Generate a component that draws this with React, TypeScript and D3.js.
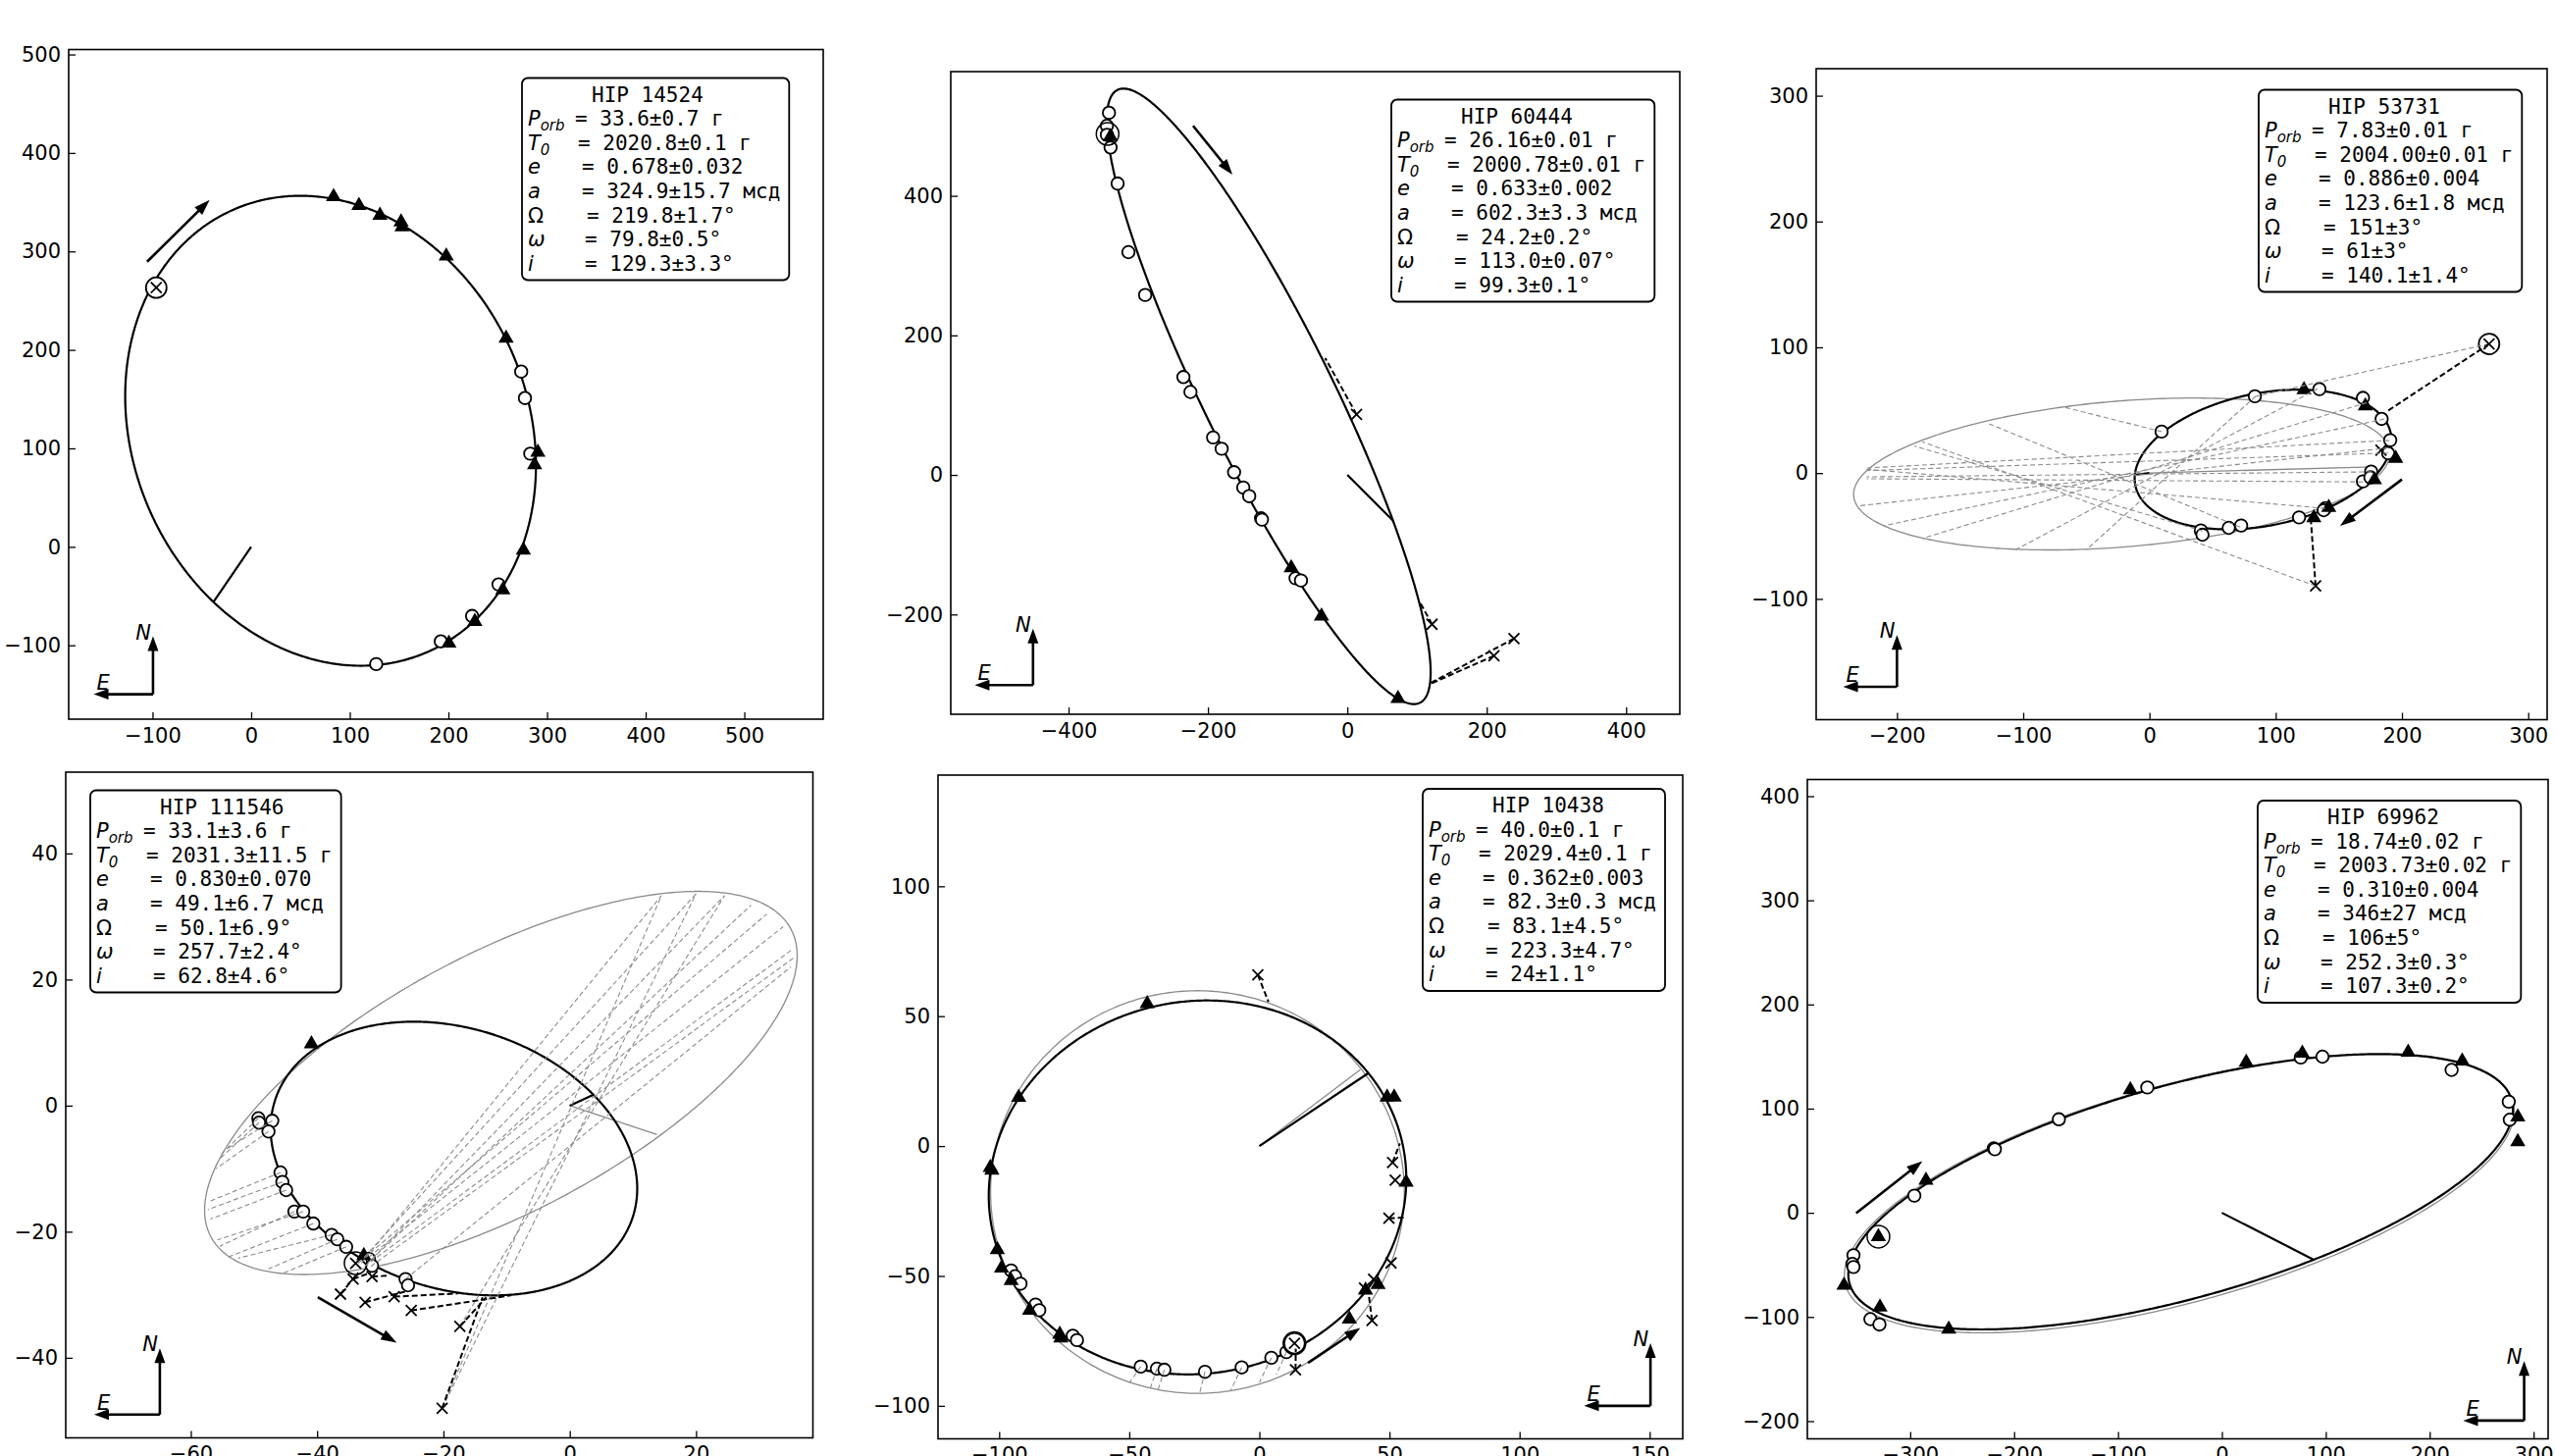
import React, { useEffect, useRef } from "react";
import * as d3 from "d3";

const W = 2604;
const H = 1484;

// orbital elements of the six pairs (fitted solution, black curve)
const stars = ["HIP 14524", "HIP 60444", "HIP 53731", "HIP 111546", "HIP 10438", "HIP 69962"];
const ecc = [0.678, 0.633, 0.886, 0.83, 0.362, 0.31];
const semiMajor = [324.9, 602.3, 123.6, 49.1, 82.3, 346];
const nodeAngle = [219.8, 24.2, 151, 50.1, 83.1, 106];
const periArg = [79.8, 113.0, 61, 257.7, 223.3, 252.3];
const incl = [129.3, 99.3, 140.1, 62.8, 24, 107.3];

const periodText = ["33.6±0.7 г", "26.16±0.01 г", "7.83±0.01 г", "33.1±3.6 г", "40.0±0.1 г", "18.74±0.02 г"];
const epochText = ["2020.8±0.1 г", "2000.78±0.01 г", "2004.00±0.01 г", "2031.3±11.5 г", "2029.4±0.1 г", "2003.73±0.02 г"];
const eccText = ["0.678±0.032", "0.633±0.002", "0.886±0.004", "0.830±0.070", "0.362±0.003", "0.310±0.004"];
const axisText = ["324.9±15.7 мсд", "602.3±3.3 мсд", "123.6±1.8 мсд", "49.1±6.7 мсд", "82.3±0.3 мсд", "346±27 мсд"];
const nodeText = ["219.8±1.7°", "24.2±0.2°", "151±3°", "50.1±6.9°", "83.1±4.5°", "106±5°"];
const periText = ["79.8±0.5°", "113.0±0.07°", "61±3°", "257.7±2.4°", "223.3±4.7°", "252.3±0.3°"];
const inclText = ["129.3±3.3°", "99.3±0.1°", "140.1±1.4°", "62.8±4.6°", "24±1.1°", "107.3±0.2°"];

// previous orbit (grey): centre x, centre y, semi-axes, tilt in degrees
const prevOrbits = [null, null, [-22, -0.7, 213, 58, 4.7], [-10.9, 3.6, 52, 20.5, 28], [-23.8, -17.7, 79.5, 77.5, 0], [-41, 18.5, 333, 104.5, 15.3]];
const prevPeri = [null, null, [177, 5], [13.8, -4.6], [38.8, 29.4], null];

// tick values
const xTicks = [
  [-100, 0, 100, 200, 300, 400, 500],
  [-400, -200, 0, 200, 400],
  [-200, -100, 0, 100, 200, 300],
  [-60, -40, -20, 0, 20],
  [-100, -50, 0, 50, 100, 150],
  [-300, -200, -100, 0, 100, 200, 300],
];
const yTicks = [
  [-100, 0, 100, 200, 300, 400, 500],
  [-200, 0, 200, 400],
  [-100, 0, 100, 200, 300],
  [-40, -20, 0, 20, 40],
  [-100, -50, 0, 50, 100],
  [-200, -100, 0, 100, 200, 300, 400],
];

// observations (mas)
const circles1 = [[126.8, -119.1], [192.3, -96], [224, -70.2], [250.8, -38.1], [273.8, 178], [277.6, 151.1], [283, 94.6]];
const triangles1 = [[83.6, 355.5], [109.3, 346.5], [130.6, 336.6], [152, 330], [153, 325], [197.8, 295.2], [258.5, 211.9], [290.7, 96], [287.4, 83.3], [276, -3.3], [255.2, -43.8], [226.8, -75.8], [200.5, -97.9]];
const circledX1 = [[-96.2, 263.2]];

const circles2 = [[-342, 519], [-345, 500.3], [-345, 487.4], [-339.7, 469.3], [-329.6, 417.6], [-314.1, 319.3], [-290.1, 257.9], [-235.2, 140.3], [-225.1, 118.9], [-192.6, 53.7], [-180.3, 37.5], [-162.5, 3.9], [-149.3, -18.1], [-140.8, -30.4], [-123.8, -62.1], [-122.5, -64], [-74.3, -148], [-66.5, -151.3]];
const triangles2 = [[-80.5, -133.2], [-37.1, -202.3], [72.7, -320.6], [-340, 485]];
const crosses2 = [[13.2, 86.6], [121.5, -214], [210.4, -259.2], [239.1, -234.6]];
const rings2 = [[-344, 488.7]];
const blackRes2 = [[13.2, 86.6, -31.7, 167.4], [121.5, -214, 103.7, -181.6], [210.4, -259.2, 118, -300], [239.1, -234.6, 120, -298]];

const circles3 = [[9.6, 33], [83.5, 61.1], [134.6, 66.8], [169.1, 59.8], [183.9, 43.1], [190.7, 26.2], [189.1, 15.8], [175.6, 1.2], [169.1, -6.6], [175, -3.4], [139.3, -27.9], [138, -29.5], [118.5, -35.2], [72.6, -41.7], [62.8, -43.5], [40.7, -45.6], [42, -49]];
const triangles3 = [[122.4, 66.3], [171, 53.4], [195, 11.7], [178.2, -5.4], [142, -27.3], [130.2, -35.6]];
const crosses3 = [[183.4, 18.2], [131.6, -89.7]];
const circledX3 = [[269, 102.7]];
const blackRes3 = [[269, 102.7, 188.6, 49.4], [131.6, -89.7, 127.7, -35.2]];
const greyRes3 = [
  [9.6, 33, -68, 52.5], [84, 61, -50, -61], [133, 67, -106, -61], [172, 56, -180, -52],
  [186, 43, -211, -42], [189, 20, -230, -26], [190, 26, -225, 4], [189, 16, -224, 2],
  [176, 1, -224, -3], [169, -7, -224, -4.5], [139, -28, -224, 3], [131.6, -89.7, -180, 25],
  [42, -46, -186, 21.5], [72, -43, -129, 40], [269, 102.7, 84, 61],
];

const circles4 = [[-49.3, -2], [-49.2, -2.7], [-47.1, -2.4], [-47.7, -4.1], [-45.8, -10.6], [-45.5, -12.1], [-44.9, -13.4], [-43.6, -16.8], [-42.2, -16.8], [-40.6, -18.7], [-37.7, -20.5], [-36.8, -21.2], [-35.4, -22.4], [-31.8, -24.3], [-31.3, -25.4], [-26, -27.5], [-25.6, -28.5]];
const triangles4 = [[-40.9, 9.8], [-32.6, -23.8]];
const crosses4 = [[-36.3, -29.9], [-34.3, -27.5], [-32.4, -31.2], [-31.3, -27.1], [-27.8, -30.3], [-25.1, -32.5], [-17.4, -35], [-20.2, -48], [-33.9, -25]];
const rings4 = [[-33.9, -25]];
const blackRes4 = [[-36.3, -29.9, -33.5, -26.5], [-34.3, -27.5, -31.5, -26.5], [-32.4, -31.2, -26.1, -29.5], [-27.8, -30.3, -17.7, -29.8], [-25.1, -32.5, -9.3, -30.1], [-17.4, -35, -13.2, -30.4], [-20.2, -48, -13.8, -30.4], [-31.3, -27.1, -29, -27]];
const greyRes4 = [
  [-49.3, -2, -55, -7.5], [-49.2, -2.7, -55.5, -8.5], [-47.1, -2.4, -54.5, -7], [-47.7, -4.1, -56, -10],
  [-45.8, -10.6, -57.3, -15.3], [-45.5, -12.1, -57.3, -16.5], [-44.9, -13.4, -56.9, -18],
  [-43.6, -16.8, -55.4, -22.3], [-42.2, -16.8, -55.8, -21.3], [-40.6, -18.7, -54, -24],
  [-37.7, -20.5, -52.5, -24.2], [-36.8, -21.2, -47.7, -25.9], [-35.4, -22.4, -45.4, -26.6],
  [-33, -25, 14.5, 33.3], [-32.5, -24, 20, 33.6], [-32, -25, 24.5, 33.3], [-31.5, -24.5, 28.7, 31.8],
  [-33.5, -25, 31.2, 30.4], [-31.8, -24, 33.8, 28.4], [-32.5, -25.5, 35.4, 24.9], [-31.5, -25.5, 35.4, 23.4],
  [-26, -27.5, 35, 22], [-20.2, -48, 14.5, 33.3], [-20.2, -48, 20, 33.6], [-17.4, -35, 24.5, 33.3],
];

const circles5 = [[-95.4, -47.9], [-93.9, -50.1], [-91.8, -53], [-86, -61], [-84.6, -63.2], [-71.7, -73], [-70.1, -74.7], [-45.6, -84.9], [-39.4, -85.7], [-36.5, -86.1], [-20.9, -86.9], [-6.8, -85.2], [4.6, -81.5], [10.4, -79.3]];
const triangles5 = [[-43.1, 54.8], [-92.5, 18.7], [-103.4, -8.3], [-102.8, -9.3], [-100.7, -39.9], [-99.1, -47], [-95.4, -51.8], [-88.3, -63.2], [-76.7, -72.5], [-76.3, -73.9], [34.6, -66.6], [40.8, -55.5], [45.6, -53.3], [49.1, 18.8], [51.8, 18.8], [56.4, -13.9]];
const crosses5 = [[-0.6, 65.9], [51.2, -6.3], [52.2, -13.1], [49.8, -27.8], [50.6, -45], [40.4, -54.7], [43.9, -51.3], [43.3, -67.1], [13.9, -86.1]];
const circledX5 = [[13.5, -75.9]];
const rings5 = [[13.5, -75.9]];
const blackRes5 = [[-0.6, 65.9, 3.5, 55.5], [51.2, -6.3, 54, 1], [49.8, -27.8, 55.5, -27.5], [43.3, -67.1, 42, -57], [13.9, -86.1, 14, -78]];
const greyRes5 = [[-45.6, -84.9, -50, -91.2], [-39.4, -85.7, -42, -93.5], [-36.5, -86.1, -39, -94], [-20.9, -86.9, -23, -95.3], [-6.8, -85.2, -11, -94], [4.6, -81.5, 0, -91], [10.4, -79.3, 6.5, -88]];

const circles6 = [[-354.6, -40.7], [-355.6, -49.1], [-354.6, -52], [-338.3, -102.1], [-329.6, -107.2], [-296, 16.5], [-219.6, 61.8], [-218.5, 61], [-156.9, 89.8], [-71.8, 120.3], [75.9, 149.1], [96.8, 149.9], [221.1, 137.2], [276.1, 106.7], [277.1, 89.4]];
const triangles6 = [[-363.7, -69.5], [-329.1, -90.6], [-330.6, -22.9], [-284.8, 31.3], [-262.9, -111.8], [-88.1, 118.2], [23.4, 144.4], [77.4, 153.3], [179.3, 154.2], [231.3, 145.7], [284.8, 91.9], [284.8, 68.2]];
const rings6 = [[-330.6, -22.9]];

const obs = [
  { circles: circles1, triangles: triangles1, crosses: [], circledX: circledX1, rings: [], blackRes: [], greyRes: [] },
  { circles: circles2, triangles: triangles2, crosses: crosses2, circledX: [], rings: rings2, blackRes: blackRes2, greyRes: [] },
  { circles: circles3, triangles: triangles3, crosses: crosses3, circledX: circledX3, rings: [], blackRes: blackRes3, greyRes: greyRes3 },
  { circles: circles4, triangles: triangles4, crosses: crosses4, circledX: [], rings: rings4, blackRes: blackRes4, greyRes: greyRes4 },
  { circles: circles5, triangles: triangles5, crosses: crosses5, circledX: circledX5, rings: rings5, blackRes: blackRes5, greyRes: greyRes5 },
  { circles: circles6, triangles: triangles6, crosses: [], circledX: [], rings: rings6, blackRes: [], greyRes: [] },
];

// layout
const frames = [
  { left: 70, right: 839, top: 50.5, bottom: 733 },
  { left: 969, right: 1712, top: 73, bottom: 728 },
  { left: 1851, right: 2596, top: 70, bottom: 733.5 },
  { left: 67, right: 828.5, top: 787, bottom: 1465.5 },
  { left: 956, right: 1715, top: 790, bottom: 1466.5 },
  { left: 1842, right: 2597, top: 794.5, bottom: 1466.5 },
];
const xDomains = [[-185, 580], [-569, 477], [-264, 315], [-79.8, 38.5], [-123.5, 162.7], [-399, 314]];
const yDomains = [[-175, 505], [-343, 578], [-196, 321.5], [-52.7, 52.9], [-112.7, 142.8], [-217, 416]];
const boxCorners = [[532, 79.5], [1418, 101.5], [2302, 91.5], [92, 805.5], [1450, 804], [2301, 816]];
// compass: corner x, corner y, E tip x, N tip y (data units)
const compass = [[-99.5, -149.7, -159.6, -90.9], [-451, -301.2, -534.6, -220.4], [-200, -169.9, -242.6, -128.7], [-64.9, -49, -75.3, -38.5], [150.3, -100, 124.8, -75.9], [290.9, -199.5, 232.3, -142.3]];
const motion = [[-105.5, 289.5, -42.1, 352.2], [-221.3, 500.3, -164.8, 430.5], [200, -5, 151, -42], [-39.9, -30.4, -27.4, -37.6], [18.7, -83.5, 38.8, -70], [-352, -0.4, -288.3, 49.6]];

const MONO = "DejaVu Sans Mono";
const SANS = "DejaVu Sans";
const fmt = (d) => (d < 0 ? "\u2212" + Math.abs(d) : String(d));

function thieleInnes(k) {
  const r = Math.PI / 180;
  const a = semiMajor[k];
  const cw = Math.cos(periArg[k] * r), sw = Math.sin(periArg[k] * r);
  const cO = Math.cos(nodeAngle[k] * r), sO = Math.sin(nodeAngle[k] * r);
  const ci = Math.cos(incl[k] * r);
  return {
    A: a * (cw * cO - sw * sO * ci),
    B: a * (cw * sO + sw * cO * ci),
    F: a * (-sw * cO - cw * sO * ci),
    G: a * (-sw * sO + cw * cO * ci),
  };
}

function orbitPoint(ti, e, E) {
  const X = Math.cos(E) - e;
  const Y = Math.sqrt(1 - e * e) * Math.sin(E);
  // x axis runs west-positive, so flip the RA offset
  return [-(ti.B * X + ti.G * Y), ti.A * X + ti.F * Y];
}

function arrow(g, x1, y1, x2, y2, lw, hl, hw) {
  const dx = x2 - x1, dy = y2 - y1, L = Math.hypot(dx, dy);
  const ux = dx / L, uy = dy / L;
  const bx = x2 - ux * hl, by = y2 - uy * hl;
  g.append("line").attr("x1", x1).attr("y1", y1).attr("x2", bx + ux).attr("y2", by + uy)
    .attr("stroke", "#000").attr("stroke-width", lw);
  g.append("path")
    .attr("d", `M${x2},${y2}L${bx - (uy * hw) / 2},${by + (ux * hw) / 2}L${bx + (uy * hw) / 2},${by - (ux * hw) / 2}Z`)
    .attr("fill", "#000");
}

function drawPanel(svg, k) {
  const f = frames[k];
  const x = d3.scaleLinear().domain(xDomains[k]).range([f.left, f.right]);
  const y = d3.scaleLinear().domain(yDomains[k]).range([f.bottom, f.top]);
  const o = obs[k];

  svg.append("clipPath").attr("id", `clip${k}`).append("rect")
    .attr("x", f.left).attr("y", f.top).attr("width", f.right - f.left).attr("height", f.bottom - f.top);

  const g = svg.append("g");
  const plot = g.append("g").attr("clip-path", `url(#clip${k})`);
  const line = d3.line().x((d) => x(d[0])).y((d) => y(d[1]));

  // previous (grey) orbit
  const prev = prevOrbits[k];
  if (prev) {
    const [cx, cy, rx, ry, rot] = prev;
    const th = (rot * Math.PI) / 180;
    const pts = d3.range(0, 361).map((t) => {
      const u = (t * Math.PI) / 180;
      return [cx + rx * Math.cos(u) * Math.cos(th) - ry * Math.sin(u) * Math.sin(th), cy + rx * Math.cos(u) * Math.sin(th) + ry * Math.sin(u) * Math.cos(th)];
    });
    plot.append("path").attr("d", line(pts)).attr("fill", "none").attr("stroke", "#8a8a8a").attr("stroke-width", 1.3);
  }
  if (prevPeri[k]) {
    plot.append("path").attr("d", line([[0, 0], prevPeri[k]])).attr("stroke", "#8a8a8a").attr("stroke-width", 1.3);
  }

  // fitted orbit
  const ti = thieleInnes(k);
  const e = ecc[k];
  const orbit = d3.range(0, 721).map((t) => orbitPoint(ti, e, (t * Math.PI) / 360));
  plot.append("path").attr("d", line(orbit)).attr("fill", "none").attr("stroke", "#000").attr("stroke-width", 2.2);
  plot.append("path").attr("d", line([[0, 0], orbitPoint(ti, e, 0)])).attr("stroke", "#000").attr("stroke-width", 2.2);

  // markers
  plot.selectAll(null).data(o.circles).join("circle")
    .attr("cx", (d) => x(d[0])).attr("cy", (d) => y(d[1])).attr("r", 6.3)
    .attr("fill", "#fff").attr("stroke", "#000").attr("stroke-width", 1.8);
  const tri = d3.symbol(d3.symbolTriangle, 105)();
  plot.selectAll(null).data(o.triangles).join("path")
    .attr("d", tri).attr("transform", (d) => `translate(${x(d[0])},${y(d[1])})`).attr("fill", "#000");
  const cross = (sel, s, w) =>
    sel.attr("d", (d) => {
      const px = x(d[0]), py = y(d[1]);
      return `M${px - s},${py - s}L${px + s},${py + s}M${px - s},${py + s}L${px + s},${py - s}`;
    }).attr("stroke", "#000").attr("stroke-width", w).attr("fill", "none");
  cross(plot.selectAll(null).data(o.crosses).join("path"), 5.5, 1.8);
  plot.selectAll(null).data(o.circledX).join("circle")
    .attr("cx", (d) => x(d[0])).attr("cy", (d) => y(d[1])).attr("r", 10.5)
    .attr("fill", "#fff").attr("stroke", "#000").attr("stroke-width", 1.8);
  cross(plot.selectAll(null).data(o.circledX).join("path"), 5.5, 1.8);
  plot.selectAll(null).data(o.rings).join("circle")
    .attr("cx", (d) => x(d[0])).attr("cy", (d) => y(d[1])).attr("r", 11.5)
    .attr("fill", "none").attr("stroke", "#000").attr("stroke-width", 1.5);

  // residual lines
  plot.selectAll(null).data(o.greyRes).join("path")
    .attr("d", (d) => line([[d[0], d[1]], [d[2], d[3]]]))
    .attr("stroke", "#8c8c8c").attr("stroke-width", 1.1).attr("stroke-dasharray", "5,3");
  plot.selectAll(null).data(o.blackRes).join("path")
    .attr("d", (d) => line([[d[0], d[1]], [d[2], d[3]]]))
    .attr("stroke", "#000").attr("stroke-width", 2).attr("stroke-dasharray", "6,3");

  // direction of motion
  const m = motion[k];
  arrow(plot, x(m[0]), y(m[1]), x(m[2]), y(m[3]), 2.6, 16, 11);

  // compass
  const c = compass[k];
  const cxp = x(c[0]), cyp = y(c[1]);
  arrow(g, cxp, cyp, x(c[2]), cyp, 2.6, 15, 11);
  arrow(g, cxp, cyp, cxp, y(c[3]), 2.6, 15, 11);
  g.append("text").text("N").attr("x", cxp - 2).attr("y", y(c[3]) + 3).attr("text-anchor", "end")
    .attr("font-family", SANS).attr("font-style", "italic").attr("font-size", 21);
  g.append("text").text("E").attr("x", x(c[2]) + 3).attr("y", cyp - 5)
    .attr("font-family", SANS).attr("font-style", "italic").attr("font-size", 21);

  // axes
  const ax = g.append("g").attr("transform", `translate(0,${f.bottom})`)
    .call(d3.axisBottom(x).tickValues(xTicks[k]).tickSizeInner(-7).tickSizeOuter(0).tickPadding(9).tickFormat(fmt));
  const ay = g.append("g").attr("transform", `translate(${f.left},0)`)
    .call(d3.axisLeft(y).tickValues(yTicks[k]).tickSizeInner(-7).tickSizeOuter(0).tickPadding(8).tickFormat(fmt));
  [ax, ay].forEach((a) => {
    a.select(".domain").remove();
    a.selectAll("text").attr("font-size", 21).attr("font-family", SANS).attr("fill", "#000");
    a.selectAll("line").attr("stroke", "#000").attr("stroke-width", 1.3);
  });
  g.append("rect").attr("x", f.left).attr("y", f.top).attr("width", f.right - f.left).attr("height", f.bottom - f.top)
    .attr("fill", "none").attr("stroke", "#000").attr("stroke-width", 1.6);

  // parameter box
  const [bx, by] = boxCorners[k];
  const box = g.append("g");
  const rect = box.append("rect");
  const tx = bx + 6;
  const base = by + 24;
  const step = 24.6;
  box.append("text").text(stars[k]).attr("x", tx + 65).attr("y", base)
    .attr("font-family", MONO).attr("font-size", 21);
  const rows = [
    ["P", "orb", true, 48, periodText[k]],
    ["T", "0", true, 51, epochText[k]],
    ["e", "", true, 55, eccText[k]],
    ["a", "", true, 55, axisText[k]],
    ["Ω", "", false, 60, nodeText[k]],
    ["ω", "", true, 58, periText[k]],
    ["i", "", true, 58, inclText[k]],
  ];
  let maxRight = 0;
  rows.forEach((r, j) => {
    const yy = base + step * (j + 1);
    const t = box.append("text").attr("x", tx).attr("y", yy).attr("font-family", SANS).attr("font-size", 21);
    t.append("tspan").text(r[0]).attr("font-style", r[2] ? "italic" : "normal");
    if (r[1]) t.append("tspan").text(r[1]).attr("font-size", 15).attr("font-style", "italic").attr("dy", 5);
    const v = box.append("text").text("= " + r[4]).attr("x", tx + r[3]).attr("y", yy)
      .attr("font-family", MONO).attr("font-size", 21).attr("xml:space", "preserve");
    const bb = v.node().getBBox();
    maxRight = Math.max(maxRight, bb.x + bb.width);
  });
  rect.attr("x", bx).attr("y", by).attr("width", maxRight - bx + 9).attr("height", 206).attr("rx", 6)
    .attr("fill", "#fff").attr("stroke", "#000").attr("stroke-width", 1.8);
}

export default function App() {
  const ref = useRef(null);
  useEffect(() => {
    const svg = d3.select(ref.current);
    svg.selectAll("*").remove();
    svg.append("rect").attr("width", W).attr("height", H).attr("fill", "#fff");
    for (let k = 0; k < 6; k++) drawPanel(svg, k);
  }, []);
  return <svg ref={ref} width={W} height={H} style={{ position: "absolute", left: 0, top: 0, display: "block" }} />;
}
